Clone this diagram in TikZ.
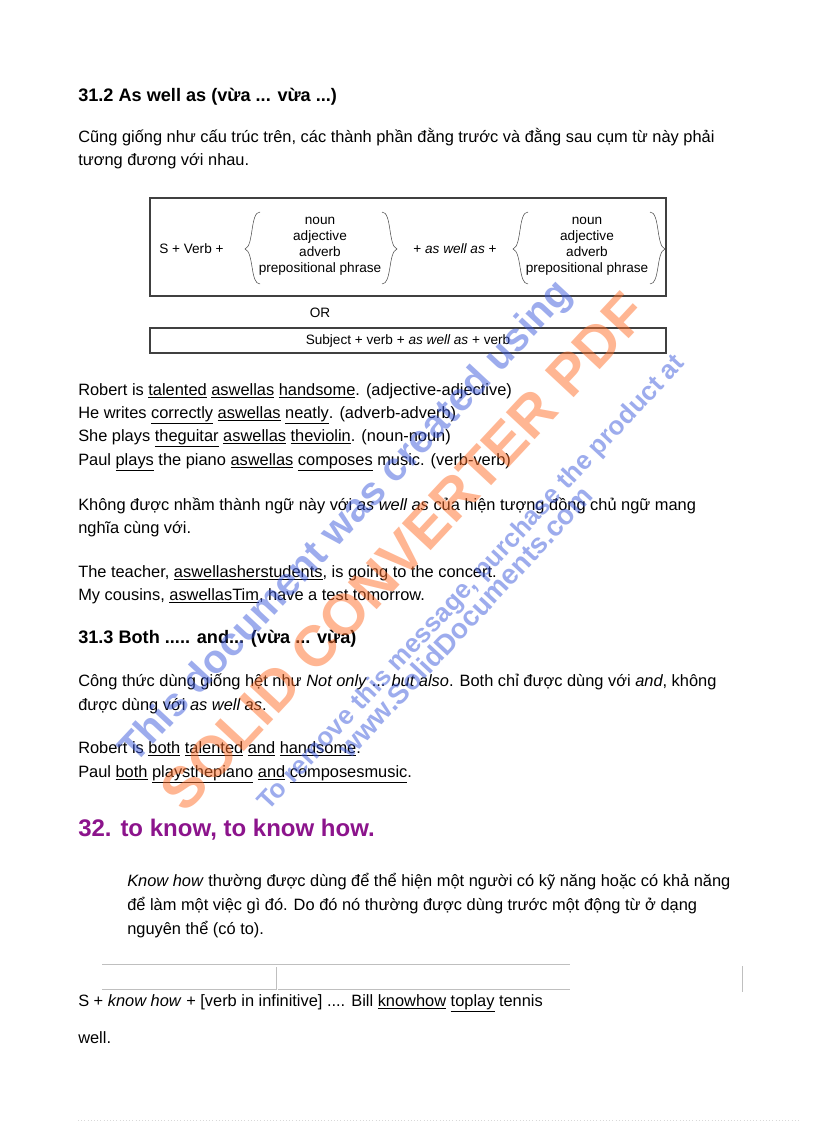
\documentclass[tikz,border=0pt]{standalone}
\usepackage{fontspec}
\setmainfont{Liberation Sans}
\begin{document}
\begin{tikzpicture}[x=0.75pt,y=-0.75pt,
  tx/.style={anchor=base west,inner sep=0,font=\fontsize{12.3}{14}\selectfont},
  hd/.style={anchor=base west,inner sep=0,font=\fontsize{13.6}{16}\selectfont\bfseries},
  sm/.style={inner sep=0,font=\fontsize{10.2}{12}\selectfont,align=center},
  bx/.style={draw=black!75,line width=0.8pt},
  wm/.style={anchor=base west,inner sep=0,rotate=47,opacity=0.5}]
\useasboundingbox[fill=white] (0,0) rectangle (816,1123);
\node[hd] (h1) at (78,102) {31.2 As well as (vừa ... vừa ...)};
\node[tx] (p1) at (78,143) {Cũng giống như cấu trúc trên, các thành phần đằng trước và đằng sau cụm từ này phải};
\node[tx] (p2) at (78,166) {tương đương với nhau.};
\draw[bx] (150,198) rectangle (666,296);
\node[sm,anchor=west] (sv) at (159,249) {S + Verb +};
\node[sm] (l1) at (320,246) {noun\\adjective\\adverb\\prepositional phrase};
\node[sm] (mid) at (455,249) {+ \textit{as well as} +};
\node[sm] (l2) at (587,246) {noun\\adjective\\adverb\\prepositional phrase};
\draw[black!70] (260,212) .. controls (250,212) and (254,246) .. (245,249) .. controls (254,252) and (250,284) .. (260,284);
\draw[black!70] (382,212) .. controls (392,212) and (388,246) .. (397,249) .. controls (388,252) and (392,284) .. (382,284);
\draw[black!70] (528,212) .. controls (518,212) and (522,246) .. (513,249) .. controls (522,252) and (518,284) .. (528,284);
\draw[black!70] (650,212) .. controls (660,212) and (656,246) .. (665,249) .. controls (656,252) and (660,284) .. (650,284);
\node[sm] (or) at (320,313) {OR};
\draw[bx] (150,328) rectangle (666,353);
\node[sm] (sub) at (408,341) {Subject + verb + \textit{as well as} + verb};
\node[tx] (r1) at (78,395) {Robert is \underline{talented} \underline{aswellas} \underline{handsome}. (adjective-adjective)};
\node[tx] (r2) at (78,418) {He writes \underline{correctly} \underline{aswellas} \underline{neatly}. (adverb-adverb)};
\node[tx] (r3) at (78,441) {She plays \underline{theguitar} \underline{aswellas} \underline{theviolin}. (noun-noun)};
\node[tx] (r4) at (78,465) {Paul \underline{plays} the piano \underline{aswellas} \underline{composes} music. (verb-verb)};
\node[tx] (k1) at (78,510) {Không được nhầm thành ngữ này với \textit{as well as} của hiện tượng đồng chủ ngữ mang};
\node[tx] (k2) at (78,533) {nghĩa cùng với.};
\node[tx] (t1) at (78,577) {The teacher, \underline{aswellasherstudents}, is going to the concert.};
\node[tx] (t2) at (78,600) {My cousins, \underline{aswellasTim}, have a test tomorrow.};
\node[hd] (h2) at (78,643) {31.3 Both ..... and... (vừa ... vừa)};
\node[tx] (c1) at (78,686) {Công thức dùng giống hệt như \textit{Not only} ... \textit{but also}. Both chỉ được dùng với \textit{and}, không};
\node[tx] (c2) at (78,710) {được dùng với \textit{as well as}.};
\node[tx] (b1) at (78,753) {Robert is \underline{both} \underline{talented} \underline{and} \underline{handsome}.};
\node[tx] (b2) at (78,777) {Paul \underline{both} \underline{playsthepiano} \underline{and} \underline{composesmusic}.};
\node[anchor=base west,inner sep=0,font=\fontsize{18}{21}\selectfont\bfseries,text={rgb,255:red,140;green,20;blue,140}] (h3) at (78,836) {32. to know, to know how.};
\node[tx] (n1) at (127,886) {\textit{Know how} thường được dùng để thể hiện một người có kỹ năng hoặc có khả năng};
\node[tx] (n2) at (127,910) {để làm một việc gì đó. Do đó nó thường được dùng trước một động từ ở dạng};
\node[tx] (n3) at (127,934) {nguyên thể (có to).};
\draw[black!25,double] (102,965) -- (570,965);
\draw[black!25,double] (102,990) -- (570,990);
\draw[black!25,double] (277,967) -- (277,990);
\draw[black!25,double] (743,966) -- (743,992);
\node[tx] (s1) at (78,1006) {S + \textit{know how} + [verb in infinitive] .... Bill \underline{knowhow} \underline{toplay} tennis};
\node[tx] (s2) at (78,1043) {well.};
\draw[black!15,dotted] (78,1120) -- (800,1120);
\node[wm,font=\fontsize{30}{30}\selectfont\bfseries,text={rgb,255:red,60;green,90;blue,220}] (w1) at (135,765) {This document was created using};
\node[wm,font=\fontsize{43}{43}\selectfont\bfseries,text={rgb,255:red,255;green,110;blue,40}] (w2) at (185,815) {SOLID CONVERTER PDF};
\node[wm,font=\fontsize{19.5}{20}\selectfont\bfseries,text={rgb,255:red,60;green,90;blue,220}] (w3) at (268,812) {To remove this message, purchase the product at};
\node[wm,font=\fontsize{21}{21}\selectfont\bfseries,text={rgb,255:red,60;green,90;blue,220}] (w4) at (350,760) {www.SolidDocuments.com};
\end{tikzpicture}
\end{document}
